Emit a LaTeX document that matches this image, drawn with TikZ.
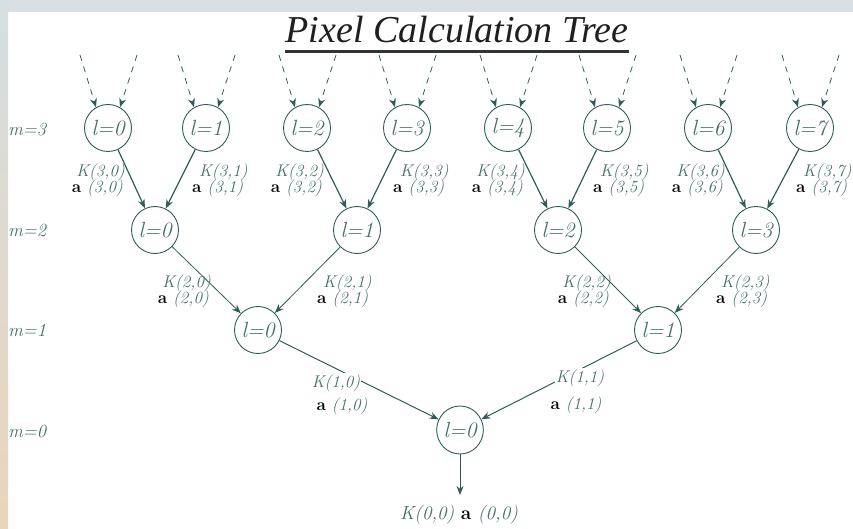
\documentclass[tikz,border=0pt]{standalone}
\usepackage{fontspec}
\newfontfamily\titlefont{Liberation Serif}
\usetikzlibrary{arrows.meta,shapes.geometric}
\definecolor{linec}{HTML}{2E5E5A}
\definecolor{textc}{HTML}{436F6A}
\definecolor{topband}{HTML}{D8E0E3}
\definecolor{bandtop}{HTML}{D5DEE1}
\definecolor{bandbot}{HTML}{E9D5BC}
\begin{document}
\begin{tikzpicture}[x=1pt,y=-1pt,
  nd/.style={circle,draw=linec,line width=0.9pt,minimum size=47pt,inner sep=0pt,text=textc,font=\fontsize{22}{22}\selectfont\itshape},
  mlab/.style={text=textc,font=\fontsize{18.5}{18.5}\selectfont\itshape,anchor=west,inner sep=0pt},
  klab/.style={text=textc,font=\fontsize{17}{17}\selectfont\itshape,inner sep=1pt},
  arrA/.style={draw=linec,line width=1.2pt,-{Stealth[length=9pt,width=7pt]}},
  arrB/.style={draw=linec,line width=0.8pt,-{Stealth[length=9pt,width=7pt]}},
  arrC/.style={draw=linec,line width=1pt,-{Stealth[length=9pt,width=7pt]}},
  dasharr/.style={draw=linec,line width=0.8pt,dash pattern=on 6pt off 6pt,-{Stealth[length=9pt,width=7pt]}}]
\useasboundingbox (0,0) rectangle (853,529);
\fill[white] (0,0) rectangle (853,529);
\fill[topband] (0,0) rectangle (853,12);
\shade[top color=bandtop,bottom color=bandbot] (0,0) rectangle (8,529);
\newcommand{\alf}{{\color{black}\bfseries\upshape a}}
% title
\node[font=\titlefont\itshape\fontsize{38}{38}\selectfont,text=black!88,inner sep=0pt,anchor=base] (title) at (457,43) {Pixel Calculation Tree};
\draw[line width=3pt,black!80] ([yshift=-9pt]title.base west) -- ([yshift=-9pt]title.base east);
% m labels
\node[mlab] (m3) at (8,130) {m=3};
\node[mlab] (m2) at (8,231) {m=2};
\node[mlab] (m1) at (8,330) {m=1};
\node[mlab] (m0) at (8,432) {m=0};
% nodes
\foreach \i/\x in {0/108,1/206,2/307,3/407,4/508,5/607,6/708,7/810}{
  \node[nd] (a\i) at (\x,128) {l=\i};
  \coordinate (dl\i) at (\x-28,55);
  \coordinate (dr\i) at (\x+29,55);
  \draw[dasharr] (dl\i) -- (a\i.120);
  \draw[dasharr] (dr\i) -- (a\i.60);
}
\foreach \i/\x in {0/155,1/357,2/558,3/756}{
  \node[nd] (b\i) at (\x,230) {l=\i};
}
\node[nd] (c0) at (258,330) {l=0};
\node[nd] (c1) at (658,330) {l=1};
\node[nd,ellipse,minimum size=0pt,minimum width=45pt,minimum height=48pt] (r0) at (460,430) {l=0};
% arrows m3 -> m2
\draw[arrA] (a0) -- (b0);
\draw[arrA] (a1) -- (b0);
\draw[arrA] (a2) -- (b1);
\draw[arrA] (a3) -- (b1);
\draw[arrA] (a4) -- (b2);
\draw[arrA] (a5) -- (b2);
\draw[arrA] (a6) -- (b3);
\draw[arrA] (a7) -- (b3);
% labels m3
\foreach \i/\x in {0/108,2/307,4/508,6/708}{
  \node[klab,anchor=east] (k3\i) at (\x+18,172) {K(3,\i)};
  \node[klab,anchor=east] (al3\i) at (\x+16,188) {\alf\ (3,\i)};
}
\foreach \i/\x in {1/206,3/407,5/607,7/810}{
  \node[klab,anchor=west] (k3\i) at (\x-8,172) {K(3,\i)};
  \node[klab,anchor=west] (al3\i) at (\x-15,188) {\alf\ (3,\i)};
}
% arrows m2 -> m1
\draw[arrB] (b0) -- (c0);
\draw[arrB] (b1) -- (c0);
\draw[arrB] (b2) -- (c1);
\draw[arrB] (b3) -- (c1);
\node[klab,anchor=east] (k20) at (212,283) {K(2,0)};
\node[klab,anchor=east] (al20) at (210,299) {\alf\ (2,0)};
\node[klab,anchor=west] (k21) at (322,283) {K(2,1)};
\node[klab,anchor=west] (al21) at (316,299) {\alf\ (2,1)};
\node[klab,anchor=east] (k22) at (612,283) {K(2,2)};
\node[klab,anchor=east] (al22) at (610,299) {\alf\ (2,2)};
\node[klab,anchor=west] (k23) at (720,283) {K(2,3)};
\node[klab,anchor=west] (al23) at (715,299) {\alf\ (2,3)};
% arrows m1 -> m0
\draw[arrC] (c0) -- (r0);
\draw[arrC] (c1) -- (r0);
\node[klab,fill=white] (k10) at (336,383) {K(1,0)};
\node[klab] (al10) at (342,406) {\alf\ (1,0)};
\node[klab,fill=white] (k11) at (580,378) {K(1,1)};
\node[klab] (al11) at (576,405) {\alf\ (1,1)};
% final
\coordinate (fend) at (460,495);
\draw[arrC] (r0) -- (fend);
\node[klab,font=\fontsize{19}{19}\selectfont\itshape] (k00) at (459,515) {K(0,0) \alf\ (0,0)};
\end{tikzpicture}
\end{document}
